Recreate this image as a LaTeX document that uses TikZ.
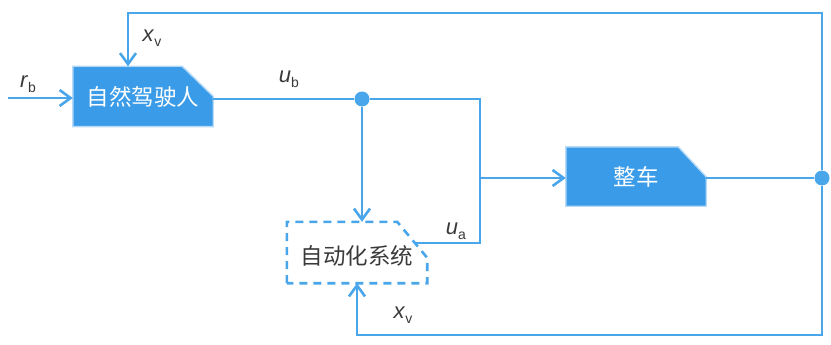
\documentclass[tikz,border=0pt]{standalone}
\usepackage{fontspec}
\setmainfont{Liberation Sans}
\newfontfamily\cjk{Noto Sans CJK SC}
\usetikzlibrary{arrows.meta}
\pgfdeclarelayer{background}
\pgfsetlayers{background,main}
\definecolor{lineblue}{HTML}{4AA6EA}
\definecolor{fillblue}{HTML}{3A9CE8}
\definecolor{edgeblue}{HTML}{B5D9F6}
\definecolor{shadowgray}{HTML}{D4D8DC}
\definecolor{txt}{HTML}{3A3A3A}
\tikzset{
  conn/.style={draw=lineblue, line width=2.8pt},
  arr/.style={conn, -{Straight Barb[length=11pt,width=16pt,line width=2.6pt]}},
  blk/.style={rectangle, minimum width=140pt, inner sep=0pt, font=\cjk\fontsize{22.5}{24}\selectfont},
  solidshape/.style={fill=fillblue, draw=edgeblue, line width=1.4pt},
  shadowshape/.style={fill=shadowgray},
  dashshape/.style={draw=lineblue, line width=2.6pt, dash pattern=on 8pt off 6pt},
  dot/.style={circle, fill=lineblue, minimum size=15pt, inner sep=0pt},
  lbl/.style={text=txt, font=\fontsize{22}{24}\selectfont}
}
\newcommand{\vsym}[2]{\textit{#1}\raisebox{-0.45ex}{\fontsize{14}{14}\selectfont #2}}
% node, xcut, ycut, style, vertical offset of the outline
\newcommand{\cutbox}[5]{%
  \begin{pgfonlayer}{background}
  \path[#4] ([yshift=#5]#1.south west) -- ([yshift=#5]#1.north west)
     -- ([xshift=-#2,yshift=#5]#1.north east)
     -- ([yshift=#5-#3]#1.north east) -- ([yshift=#5]#1.south east) -- cycle;
  \end{pgfonlayer}}
\begin{document}
\begin{tikzpicture}[x=1pt,y=-1pt]
\useasboundingbox (0,0) rectangle (831,345);
\begin{pgfonlayer}{background}
\fill[white] (0,0) rectangle (831,345);
\end{pgfonlayer}
% blocks
\node[blk, minimum height=60pt, text=white] (drv) at (143,96.5) {自然驾驶人};
\begin{scope}[shift={(2pt,-2pt)}]\cutbox{drv}{31pt}{30pt}{shadowshape}{0pt}\end{scope}
\cutbox{drv}{31pt}{30pt}{solidshape}{0pt}
\node[blk, minimum height=59pt, text=white] (veh) at (636,176.5) {整车};
\begin{scope}[shift={(2pt,-2pt)}]\cutbox{veh}{28pt}{30pt}{shadowshape}{0pt}\end{scope}
\cutbox{veh}{28pt}{30pt}{solidshape}{0pt}
\node[blk, minimum height=61pt, text=txt] (aut) at (357,255.5) {自动化系统};
\cutbox{aut}{30pt}{36pt}{dashshape}{3pt}
\coordinate (autN) at ([yshift=3pt]aut.north);
\coordinate (autS) at ([yshift=3pt]aut.south);
\coordinate (autE) at (416,243);
% junctions
\node[dot] (j1) at (362,99) {};
\node[dot] (j2) at (822,178) {};
% coordinates
\coordinate (rin) at (8,98);
\coordinate (t1) at (822,13);
\coordinate (t2) at (128,13);
\coordinate (m1) at (480,99);
\coordinate (m2) at (480,243);
\coordinate (m3) at (480,178);
\coordinate (b1) at (822,335);
% connectors
\draw[arr] (rin) -- (drv.west |- rin);
\draw[conn] (drv.east |- j1) -- (j1);
\draw[conn] (j1) -- (m1) -- (m2) -- (autE);
\draw[arr] (m3) -- (veh.west |- m3);
\draw[arr] (j1) -- (j1 |- autN);
\draw[conn] (veh.east |- j2) -- (j2);
\draw[arr] (j2) -- (t1) -- (t2) -- (t2 |- drv.north);
\draw[arr] (j2) -- (b1) -- (b1 -| autS) -- (autS);
% labels
\node[lbl] (lr) at (28,84) {\vsym{r}{b}};
\node[lbl] (lx1) at (152,38) {\vsym{x}{v}};
\node[lbl] (lub) at (289,79) {\vsym{u}{b}};
\node[lbl] (lua) at (456,231) {\vsym{u}{a}};
\node[lbl] (lx2) at (403,315) {\vsym{x}{v}};
\end{tikzpicture}
\end{document}
